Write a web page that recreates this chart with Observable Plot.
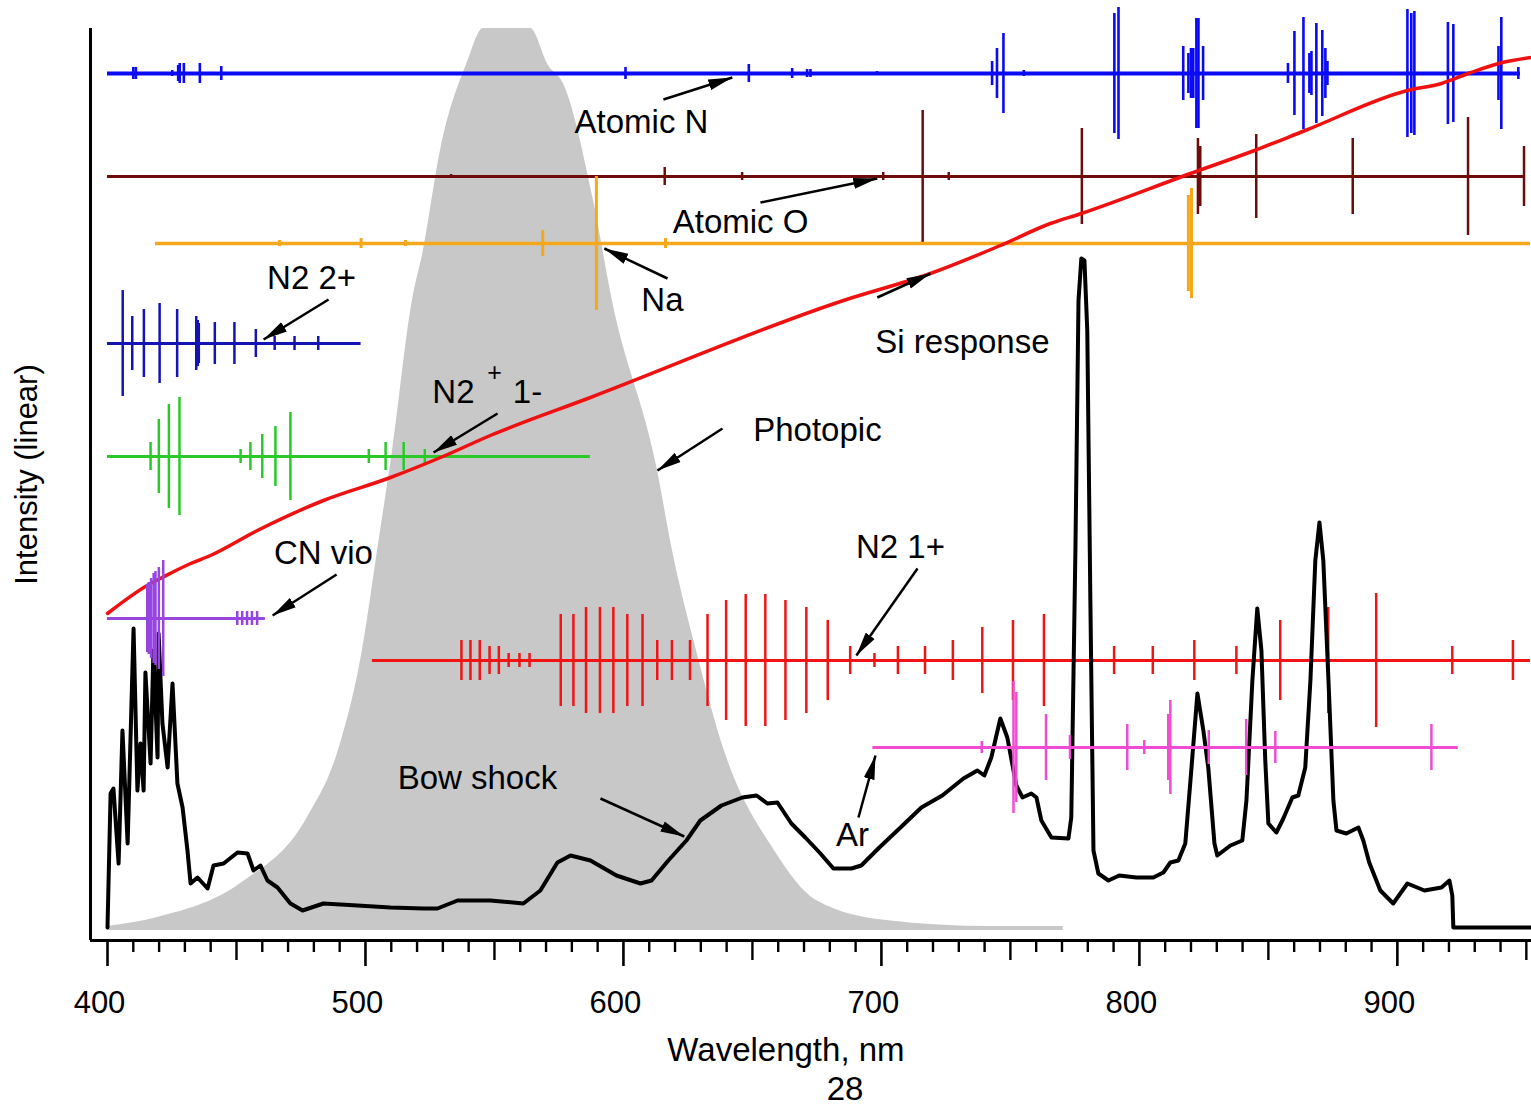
<!DOCTYPE html>
<html><head><meta charset="utf-8">
<script src="https://cdn.jsdelivr.net/npm/d3@7"></script>
<script src="https://cdn.jsdelivr.net/npm/@observablehq/plot@0.6"></script>
<style>
body{margin:0;background:#fff;font-family:"Liberation Sans",Arial,sans-serif;}
#page{width:1531px;}
.pagenum{position:relative;height:37px;width:1531px;}
.pagenum span{position:absolute;left:845px;top:0;transform:translateX(-50%);font-size:33px;line-height:37px;color:#000;}
</style></head><body><div id="page"></div>
<script>
// ---------- DATA (wavelength nm, relative intensity) ----------
const photopic = [[400,2],[419.4,11],[451.6,45],[477.5,111],[489.5,178],[498.8,278],[504.7,378],[510.5,478],[518.2,628],[522.5,678],[529.1,778],[539.5,866],[545.7,900],[564.0,900],[570.9,863],[576.7,845],[588.4,728],[595.7,628],[613.2,458],[619.0,378],[628.3,278],[639.1,178],[658.5,78],[674.8,28],[701.9,8],[742.6,2],[770.5,2]];

const bowShock = [[400,1],[401.2,135],[402.3,140],[404.3,65],[405.8,198],[407.8,85],[410.1,300],[411.6,138],[412.8,185],[414.0,138],[414.7,256],[416.7,165],[417.8,278],[419.4,171],[419.8,295],[421.3,205],[423.3,161],[425.2,245],[427.1,145],[429.1,121],[431.0,78],[432.2,45],[434.9,51],[438.8,40],[441.1,63],[445.0,65],[450.4,76],[454.3,75],[456.6,58],[459.3,63],[462.0,48],[465.9,41],[470.9,25],[475.6,18],[483.7,25],[496.9,23],[509.7,21],[522.5,20],[527.9,20],[535.7,28],[548.4,28],[561.2,25],[567.8,38],[574.4,66],[579.5,73],[587.2,68],[597.3,53],[606.6,45],[610.9,48],[617.4,68],[624.4,88],[629.8,108],[638.0,123],[646.1,131],[651.6,133],[655.8,125],[659.7,126],[665.1,105],[670.5,91],[676.0,76],[681.4,60],[688.4,60],[692.2,63],[699.2,81],[707.4,101],[715.5,121],[723.6,133],[731.8,150],[737.2,158],[739.9,153],[742.6,171],[746.1,210],[748.8,191],[752.3,143],[754.7,131],[758.1,135],[760.1,131],[762.0,108],[765.9,91],[772.5,90],[773.6,111],[775.2,378],[776.4,628],[777.5,670],[778.7,668],[779.8,598],[781.0,328],[782.2,78],[784.1,55],[788.0,48],[792.2,53],[798.8,51],[805.4,51],[809.3,56],[812.0,66],[815.1,68],[817.8,85],[819.8,148],[822.5,235],[824.8,198],[826.7,161],[829.1,85],[830.2,73],[835.3,83],[839.9,88],[841.5,128],[843.8,248],[845.7,320],[847.3,278],[848.8,168],[850.0,105],[853.1,96],[855.8,110],[859.3,131],[861.6,133],[864.3,161],[866.3,248],[868.2,368],[869.8,406],[871.3,368],[873.3,248],[875.2,128],[876.4,98],[880.2,95],[884.9,101],[886.8,88],[889.1,66],[893.4,38],[898.4,25],[903.9,45],[910.5,38],[917.1,41],[920.2,48],[921.3,33],[921.7,1],[951.9,1]];

const siResponse = [[400,315],[416.7,345],[420.5,350],[432.2,365],[439.9,373],[458.1,398],[483.7,428],[509.7,451],[529.1,471],[548.4,493],[587.2,531],[685.3,628],[719.0,655],[746.1,683],[765.5,705],[777.5,715],[819.8,755],[844.6,778],[864.3,798],[903.9,838],[917.1,845],[927.5,855],[940.7,866],[951.9,871]];

// stick spectra: [wavelength, half-height]
const atomicN = [[410.0,6],[411.0,6],[425.1,3],[427.4,8],[428.0,10],[429.6,10],[435.8,10],[444.1,7],[600.8,6],[648.6,9],[665.4,5],[671.2,4],[672.5,4],[698.3,2],[742.9,12],[744.8,25],[747.3,40],[755.2,3],[790.3,60],[791.9,66],[817.0,27],[819.0,20],[820.0,25],[820.9,25],[822.1,55],[822.9,55],[824.7,27],[857.6,10],[860.1,42],[863.6,56],[865.9,20],[866.7,22],[868.6,50],[870.9,43],[872.1,25],[872.9,12],[903.9,64],[905.4,60],[906.6,62],[919.6,51],[921.7,49],[939.2,27],[940.3,56],[946.9,6]];
const atomicO = [[533.2,2],[616.0,9],[646.0,4],[700.7,4],[716.0,66],[726.1,4],[777.7,48],[822.7,38],[823.6,30],[845.3,42],[882.7,38],[927.4,59],[949.1,30]];
const sodium = [[449.6,1],[466.7,3],[475.6,1],[498.3,5],[515.5,3],[568.7,13],[589.5,67],[616.3,5],[819.0,48],[820.2,55]];
const n2Second = [[405.9,53],[409.6,27],[414.1,34],[420.2,40],[427.0,34],[434.4,27],[435.0,23],[435.4,20],[441.6,21],[449.2,21],[457.5,14],[464.8,7],[472.5,7],[481.7,7]];
const n2PlusFirstNeg = [[416.7,14],[419.9,37],[423.8,52],[427.9,59],[451.6,7],[455.4,14],[460.0,22],[465.1,30],[470.9,44],[501.3,7],[507.8,14],[514.8,14],[523.0,7]];
const cnViolet = [[415.4,34],[416.0,36],[416.9,40],[417.9,45],[418.6,47],[419.9,51],[421.6,58],[450.3,7],[452.2,7],[454.1,7],[456.0,7],[458.0,7]];
const n2First = [[537.2,20],[540.7,20],[544.3,20],[548.1,14],[551.7,14],[555.5,7],[559.7,7],[563.6,7],[575.7,46],[580.6,46],[585.5,53],[590.9,53],[596.1,53],[601.5,46],[607.4,46],[613.1,20],[618.8,20],[625.8,20],[632.6,46],[639.8,60],[647.4,66],[655.0,66],[662.8,60],[670.9,53],[679.2,40],[687.9,14],[697.3,7],[706.4,14],[716.9,14],[727.7,20],[739.1,33],[751.0,40],[763.0,46],[790.2,14],[805.2,14],[821.3,20],[837.6,14],[854.6,40],[873.2,53],[891.8,67],[921.3,14],[944.8,20]];
const argon = [[738.9,6],[751.2,66],[752.3,55],[763.8,33],[773.1,12],[795.3,23],[801.9,7],[811.2,33],[812.0,47],[826.9,17],[841.4,28],[852.7,16],[913.2,23]];

// baselines of the stick spectra: [level, from nm, to nm]
const atomicNBase = [855, 400, 947.7];
const atomicOBase = [752, 400, 949.6];
const sodiumBase = [685, 418.6, 951.6];
const n2SecondBase = [585, 400, 498.3];
const n2PlusBase = [472, 400, 587.2];
const cnBase = [310, 400, 461.2];
const n2FirstBase = [268, 502.7, 951.6];
const argonBase = [181, 696.7, 923.6];

// annotations
const labelTexts = ["Atomic N","Atomic O","Na","Si response","N2 2+","N2","1-","Photopic","CN vio","N2 1+","Bow shock","Ar"];
const labelX = [607.0,645.4,615.1,731.4,479.1,534.1,562.8,675.2,483.7,707.4,543.4,688.8];
const labelY = [806,706,628,586,650,536,536,498,375,381,150,93];
const superPlus = [[550.0,556]];
// arrows: [x1, y1, x2, y2] (tail -> head)
const arrows = [[615.5,829,642.2,851],[653.1,726,698.4,750],[617.1,650,592.6,680],[698.4,631,719.0,655],[485.7,629,460.5,589],[551.2,515,526.4,476],[638.4,500,613.2,458],[488.8,354,464.0,313],[714.0,360,690.3,273],[591.1,130,623.6,92],[691.1,111,697.7,173]];

const xMajor = d3.range(400, 951, 100);
const xMid = d3.range(450, 951, 100);
const xMinor = d3.range(400, 951, 10).filter(v => v % 50 !== 0);

// ---------- DRAWING ----------
const font = "'Liberation Sans', Arial, sans-serif";

function arrowHead(color, context) {
  const doc = (context && context.document) || document;
  const ns = "http://www.w3.org/2000/svg";
  const m = doc.createElementNS(ns, "marker");
  m.setAttribute("viewBox", "-24 -6 24 12");
  m.setAttribute("markerWidth", "24");
  m.setAttribute("markerHeight", "12");
  m.setAttribute("markerUnits", "userSpaceOnUse");
  m.setAttribute("refX", "0");
  m.setAttribute("refY", "0");
  m.setAttribute("orient", "auto");
  const p = doc.createElementNS(ns, "path");
  p.setAttribute("d", "M0,0L-24,-5.5L-24,5.5Z");
  p.setAttribute("fill", color);
  p.setAttribute("stroke", "none");
  m.appendChild(p);
  return m;
}

function stickMarks(lines, base, color, baseWidth, tickWidth) {
  return [
    Plot.ruleY([base], {y: d => d[0], x1: d => d[1], x2: d => d[2], stroke: color, strokeWidth: baseWidth}),
    Plot.ruleX(lines, {x: d => d[0], y1: d => base[0] - d[1], y2: d => base[0] + d[1], stroke: color, strokeWidth: tickWidth})
  ];
}

const blank = () => "";

const chart = Plot.plot({
  width: 1531,
  height: 1070,
  marginLeft: 90,
  marginRight: 0,
  marginTop: 28,
  marginBottom: 130,
  style: {fontFamily: font, fontSize: "30px", background: "white", color: "black", overflow: "visible"},
  x: {domain: [393.41, 952.0]},
  y: {domain: [-12, 900], axis: null},
  marks: [
    Plot.areaY(photopic, {x: d => d[0], y1: -2, y2: d => d[1], fill: "#c8c8c8", curve: "monotone-x"}),
    ...stickMarks(atomicO, atomicOBase, "#6e0c0c", 3, 2.5),
    ...stickMarks(sodium, sodiumBase, "#f5a81c", 3.5, 3),
    ...stickMarks(atomicN, atomicNBase, "#0a0af5", 4, 2.6),
    ...stickMarks(n2Second, n2SecondBase, "#1414b4", 3, 2.5),
    ...stickMarks(n2PlusFirstNeg, n2PlusBase, "#2ac82a", 3, 2.5),
    ...stickMarks(n2First, n2FirstBase, "#f01414", 3, 2.5),
    Plot.line(bowShock, {x: d => d[0], y: d => d[1], stroke: "black", strokeWidth: 4, strokeLinejoin: "round"}),
    ...stickMarks(argon, argonBase, "#f04bd2", 3, 2.5),
    Plot.line(siResponse, {x: d => d[0], y: d => d[1], stroke: "#f01010", strokeWidth: 3.5, curve: "monotone-x"}),
    ...stickMarks(cnViolet, cnBase, "#9645e0", 3, 2.5),
    // axes
    Plot.ruleX([393.41], {stroke: "black", strokeWidth: 3}),
    Plot.ruleY([-12], {stroke: "black", strokeWidth: 3.2}),
    Plot.axisX(xMajor, {tickSize: 26, strokeWidth: 2.6, tickFormat: blank, label: null}),
    Plot.axisX(xMid, {tickSize: 20, strokeWidth: 2.4, tickFormat: blank, label: null}),
    Plot.axisX(xMinor, {tickSize: 12, strokeWidth: 2.4, tickFormat: blank, label: null}),
    Plot.text(xMajor, {x: d => d, text: d => String(d), frameAnchor: "bottom", dy: 63, dx: -8, lineAnchor: "middle", fontSize: 31, fill: "black"}),
    Plot.text(["Wavelength, nm"], {x: 663, frameAnchor: "bottom", dy: 110, lineAnchor: "middle", fontSize: 33, fill: "black"}),
    Plot.text(["Intensity (linear)"], {frameAnchor: "left", textAnchor: "middle", lineAnchor: "middle", dx: -63, dy: -10, rotate: -90, fontSize: 31, fill: "black"}),
    // annotations
    Plot.link(arrows, {x1: d => d[0], y1: d => d[1], x2: d => d[2], y2: d => d[3], stroke: "black", strokeWidth: 2.5, markerEnd: arrowHead}),
    Plot.text(labelTexts, {x: (d, i) => labelX[i], y: (d, i) => labelY[i], fontSize: 33, fill: "black"}),
    Plot.text(superPlus, {x: d => d[0], y: d => d[1], text: () => "+", fontSize: 25, fill: "black"})
  ]
});

document.getElementById("page").appendChild(chart);
const pn = document.createElement("div");
pn.className = "pagenum";
pn.innerHTML = "<span>28</span>";
document.getElementById("page").appendChild(pn);
</script></body></html>
